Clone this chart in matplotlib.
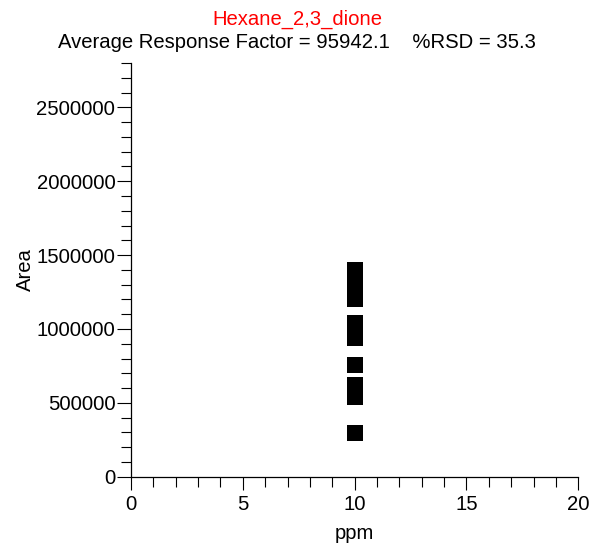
import matplotlib
matplotlib.use("Agg")
import matplotlib.pyplot as plt
from matplotlib.ticker import MultipleLocator

plt.rcParams['font.family'] = ['Liberation Sans', 'DejaVu Sans']

compound = "Hexane_2,3_dione"
avg_rf = "95942.1"
rsd = "35.3"
ppm = [10, 10, 10, 10, 10, 10, 10, 10, 10]
area = [1399000, 1300000, 1205000, 1042000, 936000, 755000, 624000, 540000, 298000]

W, H = 603, 546
FS = 14.6
fig = plt.figure(figsize=(W / 100, H / 100), dpi=100)
ax = fig.add_axes([131 / W, 1 - 476.7 / H, (578.3 - 131) / W, (476.7 - 63) / H])

ax.plot(ppm, area, linestyle='none', marker='s', markersize=11.5,
        markerfacecolor='black', markeredgewidth=0, clip_on=False)

ax.set_xlim(0, 20)
ax.set_ylim(0, 2800000)
ax.xaxis.set_major_locator(MultipleLocator(5))
ax.xaxis.set_minor_locator(MultipleLocator(1))
ax.yaxis.set_major_locator(MultipleLocator(500000))
ax.yaxis.set_minor_locator(MultipleLocator(100000))
ax.tick_params(axis='x', which='major', direction='out', length=9.6, width=0.8, labelsize=FS, pad=3.5, color='black')
ax.tick_params(axis='y', which='major', direction='out', length=10.3, width=0.8, labelsize=FS, pad=1, color='black')
ax.tick_params(which='minor', direction='out', length=7, width=0.8, color='black')
ax.yaxis.set_major_formatter(plt.FuncFormatter(lambda v, p: f"{int(round(v))}"))
ax.xaxis.set_major_formatter(plt.FuncFormatter(lambda v, p: f"{int(round(v))}"))

for s in ['top', 'right']:
    ax.spines[s].set_visible(False)
for s in ['left', 'bottom']:
    ax.spines[s].set_linewidth(0.9)

ax.set_xlabel("ppm", fontsize=FS, labelpad=7)
ax.set_ylabel("Area", fontsize=FS, labelpad=1)

fig.text(297 / W, 1 - 25 / H, compound, color='red', fontsize=FS, ha='center', va='baseline')
fig.text(297 / W, 1 - 48 / H, f"Average Response Factor = {avg_rf}    %RSD = {rsd}",
         color='black', fontsize=FS, ha='center', va='baseline')

fig.savefig("out.png", dpi=100)
